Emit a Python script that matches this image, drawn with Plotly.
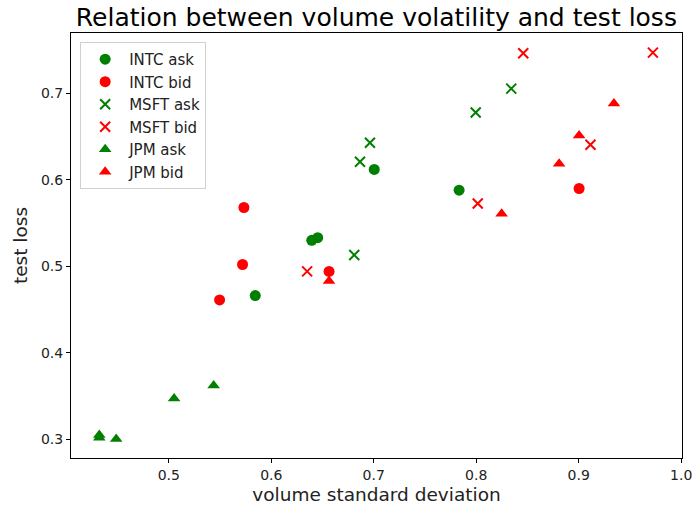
import plotly.graph_objects as go

# Data
intc_ask_x = [0.7005, 0.6395, 0.6453, 0.7833, 0.5844]
intc_ask_y = [0.612, 0.530, 0.533, 0.588, 0.466]
intc_bid_x = [0.5733, 0.9004, 0.5720, 0.6564, 0.5496]
intc_bid_y = [0.568, 0.590, 0.502, 0.494, 0.461]
msft_ask_x = [0.6963, 0.6866, 0.8342, 0.7995, 0.6810]
msft_ask_y = [0.643, 0.621, 0.7056, 0.678, 0.513]
msft_bid_x = [0.8459, 0.9724, 0.9115, 0.8015, 0.6350]
msft_bid_y = [0.7465, 0.7473, 0.6407, 0.5727, 0.494]
jpm_ask_x = [0.4322, 0.4322, 0.4487, 0.5052, 0.5438]
jpm_ask_y = [0.3015, 0.3045, 0.300, 0.347, 0.362]
jpm_bid_x = [0.9344, 0.9004, 0.8809, 0.8248, 0.6564]
jpm_bid_y = [0.6885, 0.6514, 0.6187, 0.5607, 0.483]

x_ticks = [0.5, 0.6, 0.7, 0.8, 0.9, 1.0]
x_labels = ["0.5", "0.6", "0.7", "0.8", "0.9", "1.0"]
y_ticks = [0.3, 0.4, 0.5, 0.6, 0.7]
y_labels = ["0.3", "0.4", "0.5", "0.6", "0.7"]

series = [
    ("INTC ask", intc_ask_x, intc_ask_y, "circle", "green"),
    ("INTC bid", intc_bid_x, intc_bid_y, "circle", "red"),
    ("MSFT ask", msft_ask_x, msft_ask_y, "x-thin-open", "green"),
    ("MSFT bid", msft_bid_x, msft_bid_y, "x-thin-open", "red"),
    ("JPM ask", jpm_ask_x, jpm_ask_y, "triangle-up", "green"),
    ("JPM bid", jpm_bid_x, jpm_bid_y, "triangle-up", "red"),
]

fig = go.Figure()
for i, (name, xs, ys, sym, col) in enumerate(series):
    if sym == "x-thin-open":
        marker = dict(symbol=sym, size=10, color=col, line=dict(color=col, width=2))
    else:
        marker = dict(symbol=sym, size=11, color=col, line=dict(width=0))
    fig.add_trace(go.Scatter(x=xs, y=ys, mode="markers", name=name,
                             marker=marker, legendgroup=f"g{i}"))

font_family = "DejaVu Sans"
fig.update_layout(
    width=692, height=512,
    margin=dict(l=71, r=10, t=33, b=54),
    paper_bgcolor="white", plot_bgcolor="white",
    font=dict(family=font_family, color="#222", size=14),
    title=dict(text="Relation between volume volatility and test loss",
               x=0.5439, xanchor="center", y=0.967, yanchor="middle",
               font=dict(size=25, color="black", family=font_family)),
    legend=dict(x=0.015, y=0.979, xanchor="left", yanchor="top",
                bordercolor="#d0d0d0", borderwidth=1, bgcolor="white",
                font=dict(size=15, color="#222"), tracegroupgap=0,
                itemwidth=38),
    showlegend=True,
)
fig.update_xaxes(range=[0.4046, 1.0008], tickvals=x_ticks, ticktext=x_labels,
                 ticklabeloverflow="allow", automargin=False,
                 showgrid=False, zeroline=False, showline=True, linecolor="black",
                 linewidth=1, mirror=True, ticks="outside", ticklen=4, tickcolor="black",
                 title=dict(text="volume standard deviation", font=dict(size=18.5), standoff=6))
fig.update_yaxes(range=[0.278, 0.770], tickvals=y_ticks, ticktext=y_labels,
                 automargin=False,
                 showgrid=False, zeroline=False, showline=True, linecolor="black",
                 linewidth=1, mirror=True, ticks="outside", ticklen=4, tickcolor="black",
                 title=dict(text="test loss", font=dict(size=18.5), standoff=8))

fig.write_html("out.html")
